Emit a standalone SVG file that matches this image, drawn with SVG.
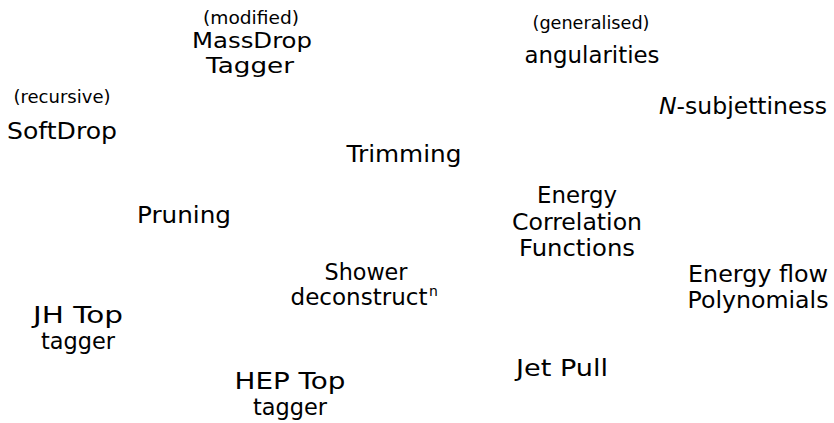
<svg xmlns="http://www.w3.org/2000/svg" width="834" height="423" viewBox="0 0 834 423">
<style>
text{font-family:"DejaVu Sans","Liberation Sans",sans-serif;fill:#000;text-anchor:middle;font-size:23px}
.s{font-size:17px}
.m{font-size:21px}
.sup{font-size:14px;text-anchor:start}
</style>
<rect width="834" height="423" fill="#fff"/>
<g id="massdrop"><text class="s" x="251" y="24" textLength="96" lengthAdjust="spacingAndGlyphs">(modified)</text><text class="m" x="252" y="48" textLength="120" lengthAdjust="spacingAndGlyphs">MassDrop</text><text class="m" x="250" y="73" textLength="88" lengthAdjust="spacingAndGlyphs">Tagger</text></g>
<g id="softdrop"><text class="s" x="62" y="103" textLength="97" lengthAdjust="spacingAndGlyphs">(recursive)</text><text x="62" y="139" textLength="110" lengthAdjust="spacingAndGlyphs">SoftDrop</text></g>
<g id="trimming"><text x="404" y="162" textLength="115" lengthAdjust="spacingAndGlyphs">Trimming</text></g>
<g id="angularities"><text class="s" x="591" y="29" textLength="117" lengthAdjust="spacingAndGlyphs">(generalised)</text><text x="592" y="63" textLength="135" lengthAdjust="spacingAndGlyphs">angularities</text></g>
<g id="nsubjettiness"><text x="743" y="114" textLength="168" lengthAdjust="spacingAndGlyphs"><tspan font-style="italic">N</tspan>-subjettiness</text></g>
<g id="ecf"><text x="577" y="203" textLength="80" lengthAdjust="spacingAndGlyphs">Energy</text><text x="577" y="230" textLength="130" lengthAdjust="spacingAndGlyphs">Correlation</text><text x="577" y="256" textLength="116" lengthAdjust="spacingAndGlyphs">Functions</text></g>
<g id="pruning"><text x="184" y="223" textLength="94" lengthAdjust="spacingAndGlyphs">Pruning</text></g>
<g id="shower"><text x="366" y="280" textLength="83" lengthAdjust="spacingAndGlyphs">Shower</text><text x="359" y="305" textLength="137" lengthAdjust="spacingAndGlyphs">deconstruct</text><text class="sup" x="429" y="296">n</text></g>
<g id="efp"><text x="758" y="282" textLength="140" lengthAdjust="spacingAndGlyphs">Energy flow</text><text x="758" y="308" textLength="141" lengthAdjust="spacingAndGlyphs">Polynomials</text></g>
<g id="jhtop"><text x="78" y="323" textLength="90" lengthAdjust="spacingAndGlyphs">JH Top</text><text x="78" y="349" textLength="74" lengthAdjust="spacingAndGlyphs">tagger</text></g>
<g id="heptop"><text x="290" y="389" textLength="111" lengthAdjust="spacingAndGlyphs">HEP Top</text><text x="290" y="415" textLength="74" lengthAdjust="spacingAndGlyphs">tagger</text></g>
<g id="jetpull"><text x="562" y="376" textLength="92" lengthAdjust="spacingAndGlyphs">Jet Pull</text></g>
<g id="connectors"/>
</svg>
